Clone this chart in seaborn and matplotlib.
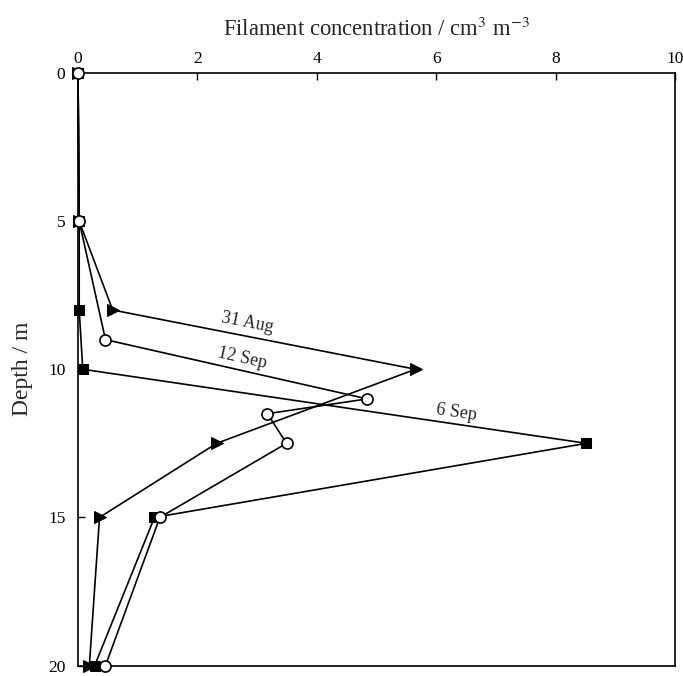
import matplotlib
matplotlib.use("Agg")
import matplotlib.pyplot as plt
import seaborn as sns
import pandas as pd

# Data
depth_31aug = [0, 5, 8, 10, 12.5, 15, 20]
conc_31aug = [0.0, 0.02, 0.58, 5.65, 2.32, 0.36, 0.19]

depth_6sep = [0, 5, 8, 10, 12.5, 15, 20]
conc_6sep = [0.0, 0.02, 0.02, 0.08, 8.51, 1.28, 0.28]

depth_12sep = [0, 5, 9, 11, 11.5, 12.5, 15, 20]
conc_12sep = [0.0, 0.02, 0.46, 4.84, 3.17, 3.49, 1.37, 0.46]

x_ticks = [0, 2, 4, 6, 8, 10]
y_ticks = [0, 5, 10, 15, 20]

sns.set_theme(style="white")
plt.rcParams['font.family'] = ['Liberation Serif', 'DejaVu Serif']
plt.rcParams['mathtext.fontset'] = 'stix'

fig = plt.figure(figsize=(6.83, 6.76), dpi=100)
ax = fig.add_axes([0.1142, 0.0155, 0.8748, 0.8765])

df6 = pd.DataFrame({"conc": conc_6sep, "depth": depth_6sep})
df31 = pd.DataFrame({"conc": conc_31aug, "depth": depth_31aug})
df12 = pd.DataFrame({"conc": conc_12sep, "depth": depth_12sep})

sns.lineplot(data=df6, x="conc", y="depth", sort=False, estimator=None, ax=ax,
             color="black", lw=1.2, marker="s", markersize=7,
             markerfacecolor="black", markeredgecolor="black", clip_on=False, zorder=3)
sns.lineplot(data=df31, x="conc", y="depth", sort=False, estimator=None, ax=ax,
             color="black", lw=1.2, marker=">", markersize=9,
             markerfacecolor="black", markeredgecolor="black", clip_on=False, zorder=4)
sns.lineplot(data=df12, x="conc", y="depth", sort=False, estimator=None, ax=ax,
             color="black", lw=1.2, marker="o", markersize=8,
             markerfacecolor="white", markeredgecolor="black", markeredgewidth=1.2,
             clip_on=False, zorder=5)

ax.set_xlim(0, 10)
ax.set_ylim(20, 0)
ax.set_xticks(x_ticks)
ax.set_yticks(y_ticks)
ax.xaxis.tick_top()
ax.xaxis.set_label_position("top")
ax.tick_params(axis="both", direction="in", length=5, width=1, labelsize=12.5,
               colors="black")
ax.tick_params(axis="x", top=True, bottom=False, pad=4)
ax.tick_params(axis="y", left=True, right=False, pad=9)

ax.set_xlabel("Filament concentration / cm$^{3}$ m$^{-3}$", fontsize=16.3, labelpad=11)
ax.set_ylabel("Depth / m", fontsize=17, labelpad=11)

for s in ax.spines.values():
    s.set_color("black")
    s.set_linewidth(1.2)

ax.text(2.83, 8.44, "31 Aug", fontsize=13, rotation=-11, ha="center", va="center",
        rotation_mode="anchor")
ax.text(2.75, 9.62, "12 Sep", fontsize=13, rotation=-12.7, ha="center", va="center",
        rotation_mode="anchor")
ax.text(6.34, 11.46, "6 Sep", fontsize=13, rotation=-8.4, ha="center", va="center",
        rotation_mode="anchor")

fig.savefig("out.png", dpi=100)
